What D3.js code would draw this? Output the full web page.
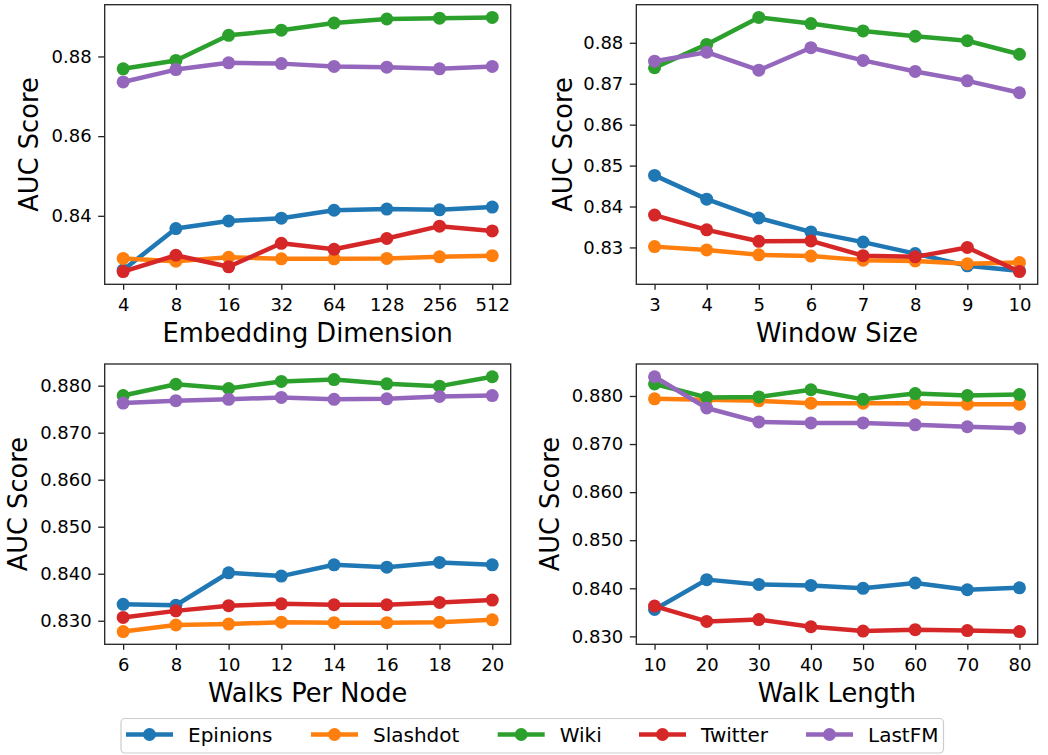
<!DOCTYPE html>
<html>
<head>
<meta charset="utf-8">
<script src="https://cdn.jsdelivr.net/npm/d3@7"></script>
<style>
  html, body { margin: 0; padding: 0; background: #fff; }
  svg { display: block; font-family: "DejaVu Sans", sans-serif; }
</style>
</head>
<body>
<svg id="chart" width="1048" height="755"></svg>
<script>
// Datasets, in drawing order
const seriesNames = ["Epinions", "Slashdot", "Wiki", "Twitter", "LastFM"];
const seriesColors = ["#1f77b4", "#ff7f0e", "#2ca02c", "#d62728", "#9467bd"];

// Embedding dimension sweep
const embeddingDims = ["4", "8", "16", "32", "64", "128", "256", "512"];
const embedEpinions = [0.8264, 0.8368, 0.8387, 0.8394, 0.8414, 0.8417, 0.8415, 0.8422];
const embedSlashdot = [0.8293, 0.8286, 0.8296, 0.8292, 0.8292, 0.8293, 0.8297, 0.8300];
const embedWiki     = [0.8769, 0.8790, 0.8853, 0.8866, 0.8884, 0.8894, 0.8896, 0.8898];
const embedTwitter  = [0.8260, 0.8301, 0.8272, 0.8331, 0.8316, 0.8343, 0.8374, 0.8362];
const embedLastFM   = [0.8736, 0.8767, 0.8784, 0.8782, 0.8775, 0.8773, 0.8769, 0.8775];
const embedTicks = [0.84, 0.86, 0.88];

// Window size sweep
const windowSizes = ["3", "4", "5", "6", "7", "8", "9", "10"];
const windowEpinions = [0.8476, 0.8418, 0.8372, 0.8338, 0.8313, 0.8285, 0.8255, 0.8243];
const windowSlashdot = [0.8302, 0.8294, 0.8282, 0.8279, 0.8269, 0.8267, 0.8260, 0.8263];
const windowWiki     = [0.8739, 0.8796, 0.8862, 0.8847, 0.8829, 0.8816, 0.8805, 0.8772];
const windowTwitter  = [0.8379, 0.8343, 0.8315, 0.8316, 0.8280, 0.8277, 0.8300, 0.8241];
const windowLastFM   = [0.8755, 0.8777, 0.8733, 0.8788, 0.8757, 0.8730, 0.8707, 0.8678];
const windowTicks = [0.83, 0.84, 0.85, 0.86, 0.87, 0.88];

// Walks per node sweep
const walksPerNode = ["6", "8", "10", "12", "14", "16", "18", "20"];
const walksEpinions = [0.8335, 0.8333, 0.8402, 0.8395, 0.8419, 0.8414, 0.8424, 0.8419];
const walksSlashdot = [0.8277, 0.8291, 0.8293, 0.8297, 0.8296, 0.8296, 0.8297, 0.8302];
const walksWiki     = [0.8779, 0.8803, 0.8794, 0.8809, 0.8813, 0.8804, 0.8799, 0.8819];
const walksTwitter  = [0.8307, 0.8321, 0.8332, 0.8336, 0.8334, 0.8334, 0.8339, 0.8344];
const walksLastFM   = [0.8763, 0.8768, 0.8771, 0.8775, 0.8771, 0.8772, 0.8777, 0.8779];
const walksTicks = [0.830, 0.840, 0.850, 0.860, 0.870, 0.880];

// Walk length sweep
const walkLengths = ["10", "20", "30", "40", "50", "60", "70", "80"];
const lengthEpinions = [0.8356, 0.8418, 0.8408, 0.8406, 0.8400, 0.8411, 0.8397, 0.8401];
const lengthSlashdot = [0.8794, 0.8792, 0.8790, 0.8785, 0.8785, 0.8785, 0.8783, 0.8783];
const lengthWiki     = [0.8825, 0.8797, 0.8798, 0.8813, 0.8793, 0.8805, 0.8801, 0.8803];
const lengthTwitter  = [0.8363, 0.8331, 0.8335, 0.8320, 0.8311, 0.8314, 0.8312, 0.8310];
const lengthLastFM   = [0.8840, 0.8775, 0.8746, 0.8744, 0.8744, 0.8740, 0.8736, 0.8733];
const lengthTicks = [0.830, 0.840, 0.850, 0.860, 0.870, 0.880];

const panels = [
  { x0: 104.7, x1: 510.7, y0: 4.7, y1: 284.3, labelX: 38, cats: embeddingDims,
    series: [embedEpinions, embedSlashdot, embedWiki, embedTwitter, embedLastFM],
    ticks: embedTicks, fmt: ".2f", xTitle: "Embedding Dimension" },
  { x0: 636.3, x1: 1037.7, y0: 4.7, y1: 284.3, labelX: 571.5, cats: windowSizes,
    series: [windowEpinions, windowSlashdot, windowWiki, windowTwitter, windowLastFM],
    ticks: windowTicks, fmt: ".2f", xTitle: "Window Size" },
  { x0: 104.7, x1: 510.7, y0: 364, y1: 644.3, labelX: 26.5, cats: walksPerNode,
    series: [walksEpinions, walksSlashdot, walksWiki, walksTwitter, walksLastFM],
    ticks: walksTicks, fmt: ".3f", xTitle: "Walks Per Node" },
  { x0: 636.3, x1: 1037.7, y0: 364, y1: 644.3, labelX: 559, cats: walkLengths,
    series: [lengthEpinions, lengthSlashdot, lengthWiki, lengthTwitter, lengthLastFM],
    ticks: lengthTicks, fmt: ".3f", xTitle: "Walk Length" }
];

const svg = d3.select("#chart");
const LINE_W = 4.5, DOT_R = 6.5;

panels.forEach(p => {
  const all = p.series.flat();
  const lo = d3.min(all), hi = d3.max(all), pad = (hi - lo) * 0.05;
  const x = d3.scalePoint().domain(p.cats).range([p.x0, p.x1]).padding(0.35);
  const y = d3.scaleLinear().domain([lo - pad, hi + pad]).range([p.y1, p.y0]);

  const g = svg.append("g");

  // series: line first, then its markers
  p.series.forEach((vals, si) => {
    const pts = vals.map((v, i) => [x(p.cats[i]), y(v)]);
    g.append("path")
      .attr("d", d3.line()(pts))
      .attr("fill", "none")
      .attr("stroke", seriesColors[si])
      .attr("stroke-width", LINE_W)
      .attr("stroke-linejoin", "round")
      .attr("stroke-linecap", "butt");
    g.selectAll(null).data(pts).enter().append("circle")
      .attr("cx", d => d[0]).attr("cy", d => d[1]).attr("r", DOT_R)
      .attr("fill", seriesColors[si]);
  });

  // frame
  g.append("rect")
    .attr("x", p.x0).attr("y", p.y0)
    .attr("width", p.x1 - p.x0).attr("height", p.y1 - p.y0)
    .attr("fill", "none").attr("stroke", "#222").attr("stroke-width", 1.3);

  // x axis
  const xAxis = d3.axisBottom(x).tickSize(5.5).tickPadding(8);
  const gx = g.append("g").attr("transform", `translate(0,${p.y1})`).call(xAxis);
  gx.select(".domain").remove();
  gx.selectAll(".tick line").attr("stroke", "#222").attr("stroke-width", 1.3);
  gx.selectAll(".tick text").attr("font-size", 18).attr("fill", "#000")
    .attr("font-family", "DejaVu Sans, sans-serif");

  // y axis
  const yAxis = d3.axisLeft(y).tickValues(p.ticks).tickFormat(d3.format(p.fmt))
    .tickSize(6.5).tickPadding(6.5);
  const gy = g.append("g").attr("transform", `translate(${p.x0},0)`).call(yAxis);
  gy.select(".domain").remove();
  gy.selectAll(".tick line").attr("stroke", "#222").attr("stroke-width", 1.3);
  gy.selectAll(".tick text").attr("font-size", 18).attr("fill", "#000")
    .attr("font-family", "DejaVu Sans, sans-serif");

  // titles
  g.append("text")
    .attr("x", (p.x0 + p.x1) / 2).attr("y", p.y1 + 57.7)
    .attr("text-anchor", "middle").attr("font-size", 25.7).attr("fill", "#000")
    .text(p.xTitle);
  g.append("text")
    .attr("transform", `translate(${p.labelX},${(p.y0 + p.y1) / 2}) rotate(-90)`)
    .attr("text-anchor", "middle").attr("font-size", 25.7).attr("fill", "#000")
    .text("AUC Score");
});

// legend
const legendX = [126, 311, 497.7, 639, 806];
const leg = svg.append("g");
leg.append("rect")
  .attr("x", 121).attr("y", 718.5).attr("width", 822.5).attr("height", 34.5)
  .attr("rx", 4).attr("fill", "#fff").attr("stroke", "#cccccc").attr("stroke-width", 1.2);
seriesNames.forEach((name, i) => {
  const lx = legendX[i], ly = 734.5;
  leg.append("line")
    .attr("x1", lx).attr("x2", lx + 47).attr("y1", ly).attr("y2", ly)
    .attr("stroke", seriesColors[i]).attr("stroke-width", LINE_W);
  leg.append("circle").attr("cx", lx + 23.5).attr("cy", ly).attr("r", DOT_R)
    .attr("fill", seriesColors[i]);
  leg.append("text").attr("x", lx + 62).attr("y", 741.5)
    .attr("font-size", 20).attr("fill", "#000").text(name);
});
</script>
</body>
</html>
